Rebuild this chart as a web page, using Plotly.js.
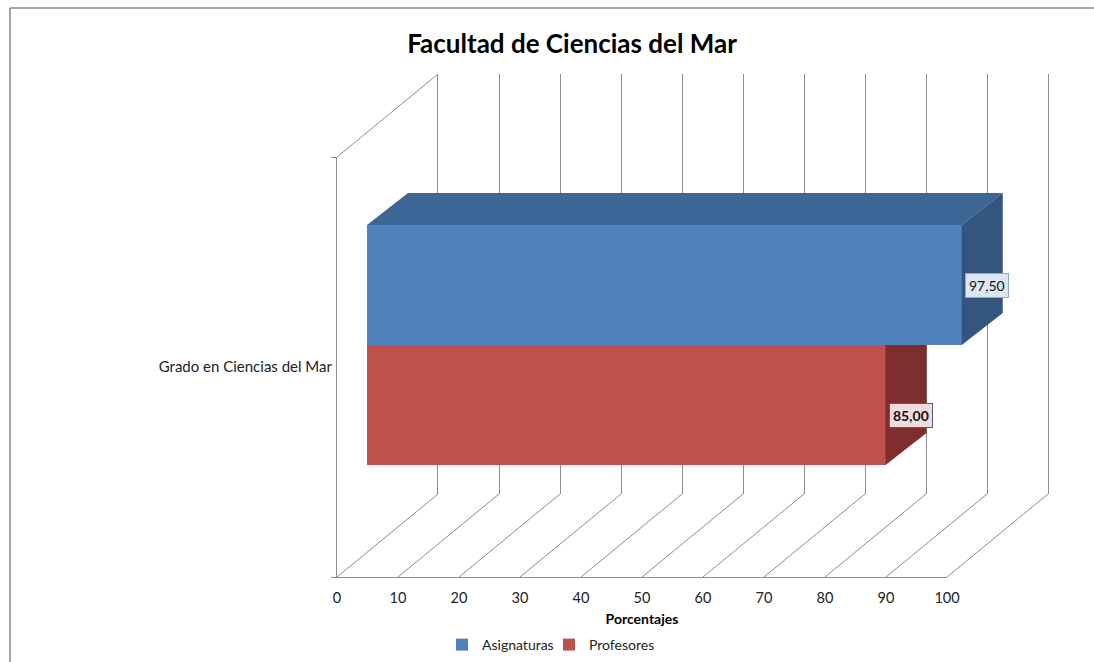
<!DOCTYPE html>
<html>
<head>
<meta charset="utf-8">
<script src="https://cdn.plot.ly/plotly-3.0.1.min.js"></script>
<style>html,body{margin:0;padding:0;background:#fff;}#chart{width:1094px;height:662px;}</style>
</head>
<body>
<div id="chart"></div>
<script>
// ---- data ----
const categories = ["Grado en Ciencias del Mar"];
const seriesNames = ["Asignaturas", "Profesores"];
const asignaturas = [97.5];
const profesores = [85.0];
const xTicks = [0, 10, 20, 30, 40, 50, 60, 70, 80, 90, 100];
const chartTitle = "Facultad de Ciencias del Mar";
const xTitle = "Porcentajes";

// ---- geometry / style ----
const W = 1094, H = 662;
const px = v => v / W;          // pixel -> paper x
const py = v => 1 - v / H;      // pixel -> paper y
const FRONT = {x0: 337, x1: 947, yTop: 157, yBot: 577};
const WALL = {dx: 101, dy: 83};
const BAR = {x0: 367, unit: 6.1, yCenter: 345, yUnit: 420, xMax: 115};
const BAR_DEPTH = {dx: 41 / 6.1, dy: 32 / 420};
const BW = 120 / 420;           // bar thickness in y3 units
const FONT = "Lato, 'Open Sans', sans-serif";
const GRID = "#8c8c8c";

const colors = {
  front: ["#4f81bd", "#c0504d"],
  top: ["#3c6696", "#8e3a38"],
  side: ["#33557f", "#7d2e2d"],
  labelBg: ["#dce6f2", "#f2dcdb"],
  labelBorder: ["#8ea9cc", "#5a5a78"],
  labelBold: [false, true],
  labelShift: [0, -10]
};

const values = [asignaturas, profesores];
const pos = categories.map((c, i) => i);
const traces = [];
const faceTraces = [];
const annotations = [];
const fmt = v => v.toFixed(2).replace(".", ",");

values.forEach((vals, s) => {
  const offset = s === 0 ? -BW : 0;
  vals.forEach((v, i) => {
    const yTop = pos[i] + offset;
    const yBot = yTop + BW;
    let sx, sy;
    if (s === 0) {
      sx = [v, v + BAR_DEPTH.dx, v + BAR_DEPTH.dx, v, v];
      sy = [yTop, yTop - BAR_DEPTH.dy, yBot - BAR_DEPTH.dy, yBot, yTop];
      // top face
      faceTraces.push({
        type: "scatter", mode: "lines", fill: "toself",
        x: [0, BAR_DEPTH.dx, v + BAR_DEPTH.dx, v, 0],
        y: [yTop, yTop - BAR_DEPTH.dy, yTop - BAR_DEPTH.dy, yTop, yTop],
        fillcolor: colors.top[s], line: {width: 0}, hoverinfo: "skip",
        showlegend: false, xaxis: "x3", yaxis: "y3"
      });
    } else {
      sx = [v, v + BAR_DEPTH.dx, v + BAR_DEPTH.dx, v, v];
      sy = [yTop, yTop, yBot - BAR_DEPTH.dy, yBot, yTop];
    }
    faceTraces.push({
      type: "scatter", mode: "lines", fill: "toself",
      x: sx, y: sy, fillcolor: colors.side[s], line: {width: 0},
      hoverinfo: "skip", showlegend: false, xaxis: "x3", yaxis: "y3"
    });
    annotations.push({
      xref: "x3", yref: "y3", x: v, y: yTop + BW / 2,
      xanchor: "left", yanchor: "middle", xshift: 3, yshift: colors.labelShift[s],
      text: colors.labelBold[s] ? "<b>" + fmt(v) + "</b>" : fmt(v),
      showarrow: false, bgcolor: colors.labelBg[s], bordercolor: colors.labelBorder[s],
      borderwidth: 1, borderpad: 3, font: {family: FONT, size: 14, color: "#111"}
    });
  });
  traces.push({
    type: "bar", orientation: "h", name: seriesNames[s],
    x: vals, y: pos, width: BW, offset: offset,
    marker: {color: colors.front[s], line: {width: 0}},
    xaxis: "x3", yaxis: "y3",
    hovertemplate: seriesNames[s] + ": %{x:.2f}<extra></extra>"
  });
});

// invisible anchors for the front axes and the back wall
const frontTrace = {type: "scatter", x: [0], y: [0], mode: "markers",
  marker: {opacity: 0}, showlegend: false, hoverinfo: "skip", xaxis: "x2", yaxis: "y2"};
const wallTrace = {type: "scatter", x: [0], y: [0], mode: "markers",
  marker: {opacity: 0}, showlegend: false, hoverinfo: "skip", xaxis: "x", yaxis: "y"};

// ---- shapes: floor diagonals, left wall top edge, chart border ----
const shapes = [];
const lineStyle = {color: GRID, width: 1};
xTicks.forEach(t => {
  const fx = FRONT.x0 + (FRONT.x1 - FRONT.x0) * t / 100;
  shapes.push({type: "line", xref: "paper", yref: "paper",
    x0: px(fx), y0: py(FRONT.yBot), x1: px(fx + WALL.dx), y1: py(FRONT.yBot - WALL.dy),
    line: lineStyle, layer: "below"});
});
shapes.push({type: "line", xref: "paper", yref: "paper",
  x0: px(FRONT.x0), y0: py(FRONT.yTop), x1: px(FRONT.x0 + WALL.dx), y1: py(FRONT.yTop - WALL.dy),
  line: lineStyle, layer: "below"});
shapes.push({type: "line", xref: "paper", yref: "paper", x0: px(10), y0: py(8), x1: px(10), y1: 0,
  line: {color: "#8a8a8a", width: 1.5}});
shapes.push({type: "line", xref: "paper", yref: "paper", x0: px(10), y0: py(8), x1: 1, y1: py(8),
  line: {color: "#8a8a8a", width: 1.5}});

const layout = {
  width: W, height: H,
  margin: {l: 0, r: 0, t: 0, b: 0},
  paper_bgcolor: "#fff", plot_bgcolor: "rgba(0,0,0,0)",
  font: {family: FONT, size: 14, color: "#222"},
  title: {text: "<b>" + chartTitle + "</b>", font: {family: FONT, size: 26, color: "#000"},
    x: px(572), xanchor: "center", y: py(44), yanchor: "middle", xref: "paper", yref: "paper"},
  showlegend: true,
  legend: {orientation: "h", x: px(442), xanchor: "left", y: py(645), yanchor: "middle",
    font: {family: FONT, size: 14, color: "#222"}, itemwidth: 30, traceorder: "normal",
    entrywidth: 62},
  // back wall
  xaxis: {domain: [px(FRONT.x0 + WALL.dx), px(FRONT.x1 + WALL.dx)], range: [0, 100],
    tickmode: "array", tickvals: xTicks, showgrid: true, gridcolor: GRID, gridwidth: 1,
    zeroline: false, showticklabels: false, ticks: "", showline: false, anchor: "y", fixedrange: true},
  yaxis: {domain: [py(FRONT.yBot - WALL.dy), py(FRONT.yTop - WALL.dy)], range: [0, 1],
    showgrid: false, zeroline: false, showticklabels: false, ticks: "",
    showline: true, mirror: true, linecolor: GRID, linewidth: 1, anchor: "x", fixedrange: true},
  // front plane axes
  xaxis2: {domain: [px(FRONT.x0), px(FRONT.x1)], range: [0, 100], tickmode: "array",
    tickvals: xTicks, ticktext: xTicks.map(String), showgrid: false, zeroline: false,
    showline: true, linecolor: GRID, linewidth: 1, ticks: "", ticklabelstandoff: 8,
    tickfont: {family: FONT, size: 14.5, color: "#222"},
    title: {text: "<b>" + xTitle + "</b>", font: {family: FONT, size: 14, color: "#000"}, standoff: 8},
    anchor: "y2", fixedrange: true},
  yaxis2: {domain: [py(FRONT.yBot), py(FRONT.yTop)], range: [-0.5, 0.5], tickmode: "array",
    tickvals: pos, ticktext: categories, showgrid: false, zeroline: false,
    showline: true, linecolor: GRID, linewidth: 1, ticks: "", ticklabelstandoff: 1,
    minor: {tickmode: "array", tickvals: [-0.5, 0.5], ticks: "outside", ticklen: 5, tickcolor: GRID},
    tickfont: {family: FONT, size: 15, color: "#222"}, anchor: "x2", fixedrange: true},
  // bars (range extended so the depth faces are not clipped)
  xaxis3: {domain: [px(BAR.x0), px(BAR.x0 + BAR.xMax * BAR.unit)], range: [0, BAR.xMax], visible: false,
    anchor: "y3", fixedrange: true},
  yaxis3: {domain: [py(BAR.yCenter + BAR.yUnit / 2), py(BAR.yCenter - BAR.yUnit / 2)],
    range: [0.5, -0.5], visible: false, anchor: "x3", fixedrange: true},
  shapes: shapes,
  annotations: annotations,
  bargap: 0
};

Plotly.newPlot("chart", [wallTrace, frontTrace].concat(faceTraces, traces), layout,
  {displayModeBar: false, staticPlot: false});
</script>
</body>
</html>
